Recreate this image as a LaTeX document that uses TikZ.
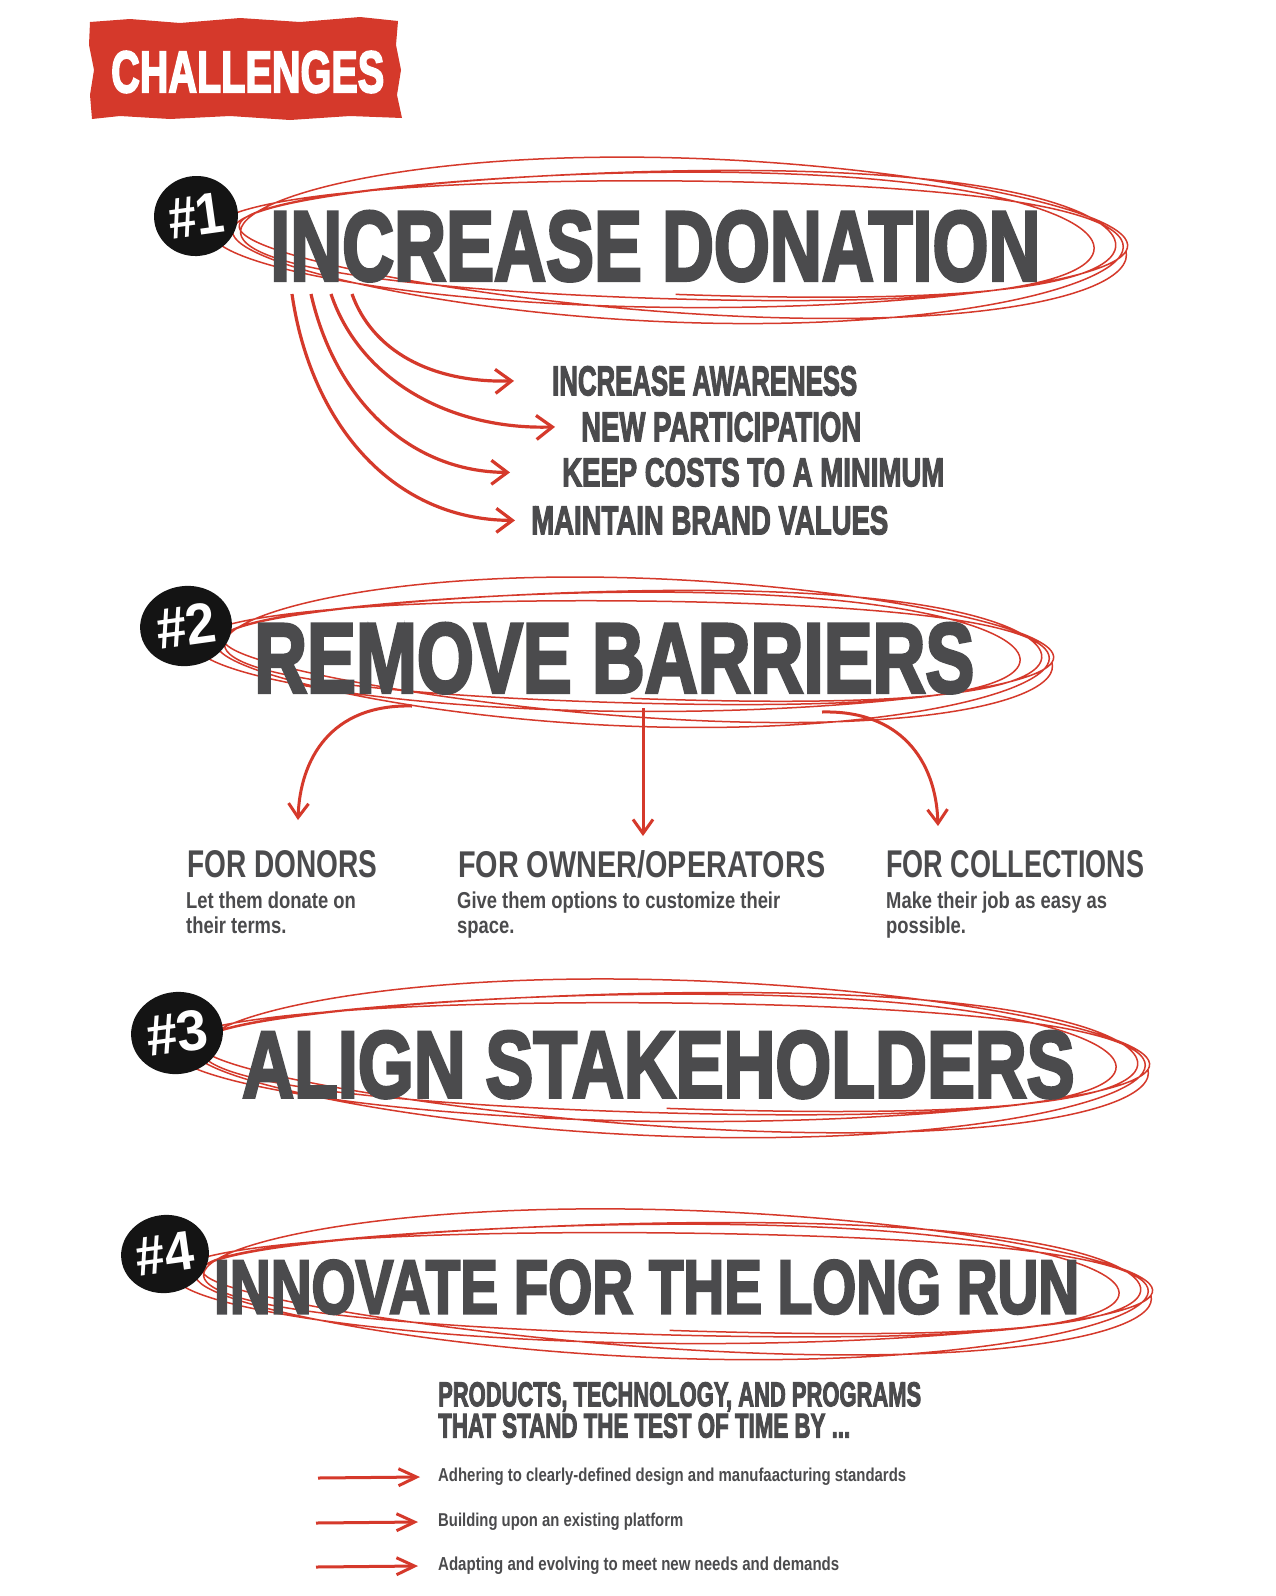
\documentclass[tikz,border=0pt]{standalone}
\usepackage{fontspec}
\setmainfont{Liberation Sans}
\newfontfamily\bodyfont[FakeStretch=0.8]{Liberation Sans}
\newfontfamily\heavyfont[BoldFeatures={FakeBold=3.5}]{Liberation Sans}
\usetikzlibrary{arrows.meta,shapes.geometric}
\definecolor{cred}{HTML}{D5392B}
\definecolor{cgray}{HTML}{4B4B4D}
\definecolor{cblob}{HTML}{141414}
\newcommand\fittext[3]{\resizebox{#1pt}{#2pt}{\heavyfont\bfseries #3}}
\newcommand\fitmid[3]{\resizebox{#1pt}{#2pt}{\bfseries #3}}
\newcommand\fitw[2]{\resizebox{#1pt}{!}{\bodyfont\bfseries #2}}
\newcommand\scribloop[5]{%
  \draw[scrib,rotate around={#5:(#1,#2)}] plot[domain=0:1530,samples=560,smooth,variable=\t]
   ({#1+(#3+11*sin(1.7*\t)+8*cos(0.45*\t))*cos(\t)+6*sin(0.8*\t)},
    {#2+(#4+9*sin(1.3*\t+40)+6*cos(0.6*\t))*sin(\t)*(1+0.09*cos(\t))+4*cos(0.9*\t)});}
\tikzset{
  scrib/.style={draw=cred,line width=1.5pt},
  head/.style={inner sep=0pt,anchor=north west,text=cgray},
  blob/.style={ellipse,fill=cblob,inner sep=0pt,text=white},
  arr/.style={draw=cred,line width=3.2pt,-{Straight Barb[length=16pt,width=24pt]}},
  arrm/.style={draw=cred,line width=3pt,-{Straight Barb[length=14pt,width=20pt]}},
  arrb/.style={draw=cred,line width=3pt,-{Straight Barb[length=18pt,width=17pt]}},
  sub/.style={inner sep=0pt,anchor=north west,text=cgray,align=left,
    font=\bodyfont\bfseries\fontsize{23}{25}\selectfont},
}
\begin{document}
\begin{tikzpicture}[x=1pt,y=-1pt]
\useasboundingbox (0,0) rectangle (1275,1596);
\fill[white] (0,0) rectangle (1275,1596);

% CHALLENGES banner
\fill[cred] (90,22) -- (130,19) -- (180,23) -- (240,18) -- (300,22) -- (360,17) -- (398,21)
  -- (396,45) -- (401,70) -- (397,95) -- (402,118) -- (350,116) -- (290,120) -- (230,116)
  -- (170,119) -- (120,116) -- (92,119) -- (90,95) -- (94,70) -- (89,45) -- cycle;
\node[inner sep=0pt,text=white,anchor=north west] (title) at (111,51) {\fittext{273}{41}{CHALLENGES}};

% ---------- #1
\scribloop{673}{239}{445}{66}{-1}
\node[head] (h1) at (270,211) {\fittext{770}{69}{INCREASE DONATION}};
\node[blob,minimum width=84pt,minimum height=80pt,rotate=8] (b1) at (196,216) {\fitmid{56}{40}{\#1}};

\coordinate (s1) at (352,294);
\coordinate (s2) at (331,294);
\coordinate (s3) at (311,294);
\coordinate (s4) at (292,294);
\node[head] (t1) at (552,366) {\fittext{305}{29}{INCREASE AWARENESS}};
\node[head] (t2) at (581,412) {\fittext{280}{29}{NEW PARTICIPATION}};
\node[head] (t3) at (562,458) {\fittext{382}{28}{KEEP COSTS TO A MINIMUM}};
\node[head] (t4) at (531,506) {\fittext{357}{28}{MAINTAIN BRAND VALUES}};
\draw[arr] (s1) .. controls (372,350) and (430,383) .. ([xshift=-38pt]t1.west);
\draw[arr] (s2) .. controls (360,380) and (450,430) .. ([xshift=-26pt]t2.west);
\draw[arr] (s3) .. controls (335,400) and (410,472) .. ([xshift=-52pt]t3.west);
\draw[arr] (s4) .. controls (310,420) and (390,520) .. ([xshift=-16pt]t4.west);

% ---------- #2
\scribloop{628}{651}{416}{58}{-1}
\node[head] (h2) at (254,623) {\fittext{720}{69}{REMOVE BARRIERS}};
\node[blob,minimum width=92pt,minimum height=80pt,rotate=8] (b2) at (186,626) {\fitmid{60}{40}{\#2}};

\coordinate (r1) at (412,706);
\coordinate (r2) at (643,708);
\coordinate (r3) at (822,712);
\coordinate (e1) at (298,820);
\coordinate (e2) at (643,836);
\coordinate (e3) at (938,826);
\node[head] (d1) at (187,850) {\fitmid{190}{27}{FOR DONORS}};
\node[head] (d2) at (458,850) {\fitmid{367}{27}{FOR OWNER/OPERATORS}};
\node[head] (d3) at (886,850) {\fitmid{258}{27}{FOR COLLECTIONS}};
\draw[arrm] (r1) .. controls (330,704) and (300,760) .. (e1);
\draw[arrm] (r2) -- (e2);
\draw[arrm] (r3) .. controls (900,710) and (936,760) .. (e3);
\node[sub] (p1) at (186,892) {Let them donate on\\their terms.};
\node[sub] (p2) at (457,892) {Give them options to customize their\\space.};
\node[sub] (p3) at (886,892) {Make their job as easy as\\possible.};

% ---------- #3
\scribloop{664}{1057}{476}{62}{-1}
\node[head] (h3) at (242,1031) {\fittext{832}{66}{ALIGN STAKEHOLDERS}};
\node[blob,minimum width=92pt,minimum height=82pt,rotate=8] (b3) at (177,1033) {\fitmid{62}{40}{\#3}};

% ---------- #4
\scribloop{667}{1283}{476}{58}{-1}
\node[head] (h4) at (214,1260) {\fittext{865}{53}{INNOVATE FOR THE LONG RUN}};
\node[blob,minimum width=88pt,minimum height=78pt,rotate=8] (b4) at (165,1254) {\fitmid{58}{38}{\#4}};

\node[head,align=left] (q1) at (438,1382) {\fittext{483}{24}{PRODUCTS, TECHNOLOGY, AND PROGRAMS}\\[1pt]\fittext{412}{24}{THAT STAND THE TEST OF TIME BY ...}};

\node[inner sep=0pt,anchor=west,text=cgray] (l1) at (438,1477) {\fitw{468}{Adhering to clearly-defined design and manufaacturing standards}};
\node[inner sep=0pt,anchor=west,text=cgray] (l2) at (438,1522) {\fitw{245}{Building upon an existing platform}};
\node[inner sep=0pt,anchor=west,text=cgray] (l3) at (438,1566) {\fitw{401}{Adapting and evolving to meet new needs and demands}};
\coordinate (c1) at (318,1478);
\coordinate (c2) at (316,1523);
\coordinate (c3) at (316,1567);
\draw[arrb] (c1) -- ([xshift=-18pt]l1.west);
\draw[arrb] (c2) -- ([xshift=-20pt]l2.west);
\draw[arrb] (c3) -- ([xshift=-20pt]l3.west);
\end{tikzpicture}
\end{document}
